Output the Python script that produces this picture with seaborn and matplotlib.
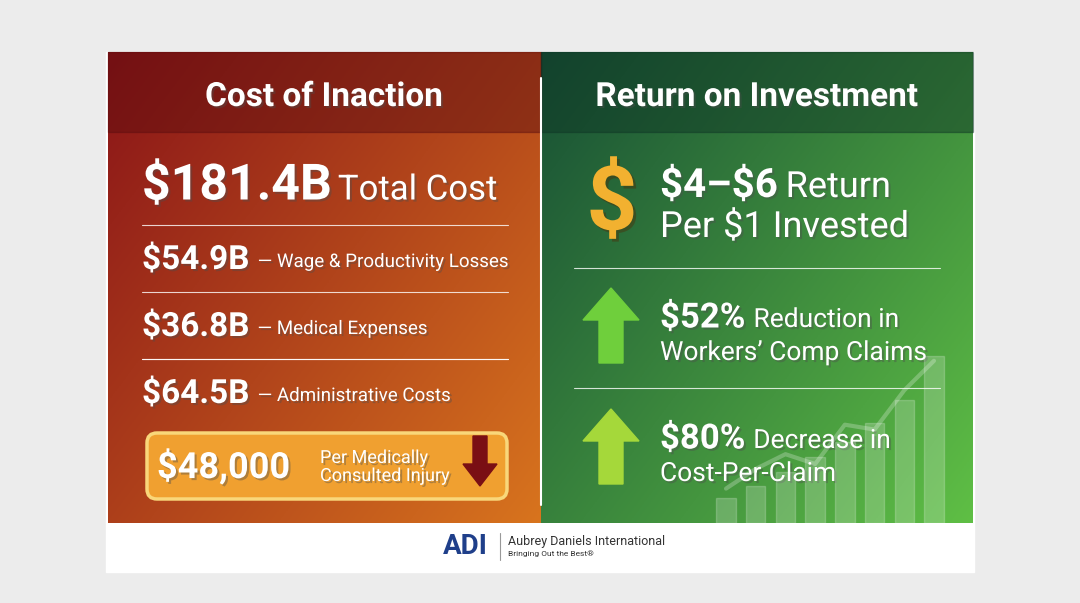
import numpy as np
import pandas as pd
import matplotlib.pyplot as plt
import seaborn as sns
from matplotlib.patches import FancyBboxPatch, FancyArrow
import matplotlib.patheffects as pe

sns.set_theme(style="white")
plt.rcParams['font.family'] = ['Roboto', 'DejaVu Sans']

# dados do painel
titulo_esq = "Cost of Inaction"
titulo_dir = "Return on Investment"
total_valor = "$181.4B"
total_rotulo = "Total Cost"
custos_valores = ["$54.9B", "$36.8B", "$64.5B"]
custos_rotulos = ["— Wage & Productivity Losses", "— Medical Expenses", "— Administrative Costs"]
lesao_valor = "$48,000"
lesao_rotulo = "Per Medically\nConsulted Injury"
roi_linha1 = (r"\$4–\$6", "Return")
roi_linha2 = "Per $1 Invested"
ganhos_valores = ["$52%", "$80%"]
ganhos_rotulos = [("Reduction in", "Workers’ Comp Claims"), ("Decrease in", "Cost-Per-Claim")]
barras_deco = [25, 38, 52, 67, 82, 102, 125, 170]

fig = plt.figure(figsize=(10.8, 6.03), dpi=100)
fig.patch.set_facecolor('#ececec')
ax = fig.add_axes([0, 0, 1, 1])
ax.set_xlim(0, 1080)
ax.set_ylim(603, 0)
ax.axis('off')
renderer = fig.canvas.get_renderer()

def gradiente(ext, c1, c2, ang=0.6):
    x0, x1, y1, y0 = ext
    n = 200
    xx, yy = np.meshgrid(np.linspace(0, 1, n), np.linspace(0, 1, n))
    t = (xx * ang + yy * (1 - ang))
    c1 = np.array(plt.matplotlib.colors.to_rgb(c1))
    c2 = np.array(plt.matplotlib.colors.to_rgb(c2))
    img = c1 + (c2 - c1) * t[..., None]
    ax.imshow(img, extent=(x0, x1, y1, y0), origin='upper', aspect='auto', zorder=1)

sombra = [pe.withSimplePatchShadow(offset=(1.5, -1.5), alpha=0.4)]

def par(x, y, v, r, fs_v, fs_r, gap=8, dy=2, peso='bold'):
    t = ax.text(x, y, v, color='white', fontsize=fs_v, fontweight=peso, va='center', zorder=5, path_effects=sombra)
    bb = t.get_window_extent(renderer)
    ax.text(bb.x1 + gap, y + dy, r, color='white', fontsize=fs_r, va='center', zorder=5, path_effects=sombra)

# fundos
ax.add_patch(plt.Rectangle((106, 52), 868, 520, color='white', zorder=0.5))
gradiente((108, 541, 523, 52), '#8a1418', '#d8741e', ang=0.55)
gradiente((541, 973, 523, 52), '#174f35', '#5fbf45', ang=0.55)
ax.add_patch(plt.Rectangle((108, 52), 433, 80, color='#5a0c0f', alpha=0.45, zorder=2))
ax.add_patch(plt.Rectangle((541, 52), 432, 80, color='#0d3324', alpha=0.45, zorder=2))
ax.plot([541, 541], [78, 505], color='white', lw=1.5, zorder=3)

ax.text(324, 97, titulo_esq, color='white', fontsize=24, fontweight='bold', ha='center', va='center', zorder=5, path_effects=sombra)
ax.text(757, 97, titulo_dir, color='white', fontsize=24, fontweight='bold', ha='center', va='center', zorder=5, path_effects=sombra)

# lado esquerdo
par(142, 186, total_valor, total_rotulo, 36, 25, gap=6, dy=4)
for i, (v, r) in enumerate(zip(custos_valores, custos_rotulos)):
    y = 260 + i * 67
    ax.plot([142, 508], [y - 35, y - 35], color='white', lw=0.8, alpha=0.8, zorder=4)
    par(142, y, v, r, 24, 13.5, gap=8)
ax.plot([142, 508], [359, 359], color='white', lw=0.8, alpha=0.8, zorder=4)
ax.add_patch(FancyBboxPatch((147, 433), 360, 66, boxstyle='round,pad=0,rounding_size=10',
                            fc='#f0a030', ec='#f9d77a', lw=2.5, zorder=4))
t = ax.text(157, 467, lesao_valor, color='white', fontsize=26, fontweight='bold', va='center', zorder=5, path_effects=sombra)
ax.text(320, 467, lesao_rotulo, color='white', fontsize=13, va='center', linespacing=1.0, zorder=5, path_effects=sombra)
ax.add_patch(FancyArrow(480, 436, 0, 50, width=14, head_width=34, head_length=22,
                        length_includes_head=True, color='#7a0f14', zorder=5))

# barras decorativas (seaborn)
axb = fig.add_axes([705 / 1080, (603 - 523) / 603, 250 / 1080, 175 / 603])
df = pd.DataFrame({'x': range(len(barras_deco)), 'y': barras_deco})
sns.barplot(data=df, x='x', y='y', color='white', alpha=0.2, width=0.65, ax=axb)
axb.plot(range(len(barras_deco)), [v + 25 for v in [10, 30, 45, 35, 75, 70, 110, 140]],
         color='white', alpha=0.25, lw=3)
axb.set_ylim(0, 178)
axb.axis('off')
axb.patch.set_alpha(0)

# lado direito
ax.text(612, 205, "$", color='#f2b130', fontsize=64, fontweight='bold', ha='center', va='center', zorder=5,
        path_effects=[pe.withSimplePatchShadow(offset=(2, -2), alpha=0.5)])
par(660, 186, roi_linha1[0], roi_linha1[1], 29, 26, gap=8, dy=1)
ax.text(660, 227, roi_linha2, color='white', fontsize=26, va='center', zorder=5, path_effects=sombra)
ax.plot([574, 940], [268, 268], color='white', lw=0.8, alpha=0.8, zorder=4)
ax.plot([574, 940], [388, 388], color='white', lw=0.8, alpha=0.8, zorder=4)
for i, (v, (r1, r2)) in enumerate(zip(ganhos_valores, ganhos_rotulos)):
    y = 318 + i * 121
    ax.add_patch(FancyArrow(611, y + 45, 0, -75, width=24, head_width=56, head_length=32,
                            length_includes_head=True, color='#6fcf3c' if i == 0 else '#a5d83a', zorder=5))
    par(660, y, v, r1, 25, 19, gap=8)
    ax.text(660, y + 35, r2, color='white', fontsize=19, va='center', zorder=5, path_effects=sombra)

# rodapé
ax.text(465, 546, "ADI", color='#1f3f8a', fontsize=20, fontweight='bold', ha='center', va='center', zorder=5)
ax.plot([500, 500], [533, 560], color='#999999', lw=0.8, zorder=5)
ax.text(508, 541, "Aubrey Daniels International", color='#333333', fontsize=9, va='center', zorder=5)
ax.text(508, 554, "Bringing Out the Best®", color='#333333', fontsize=6, va='center', zorder=5)

fig.savefig('out.png', dpi=100)
